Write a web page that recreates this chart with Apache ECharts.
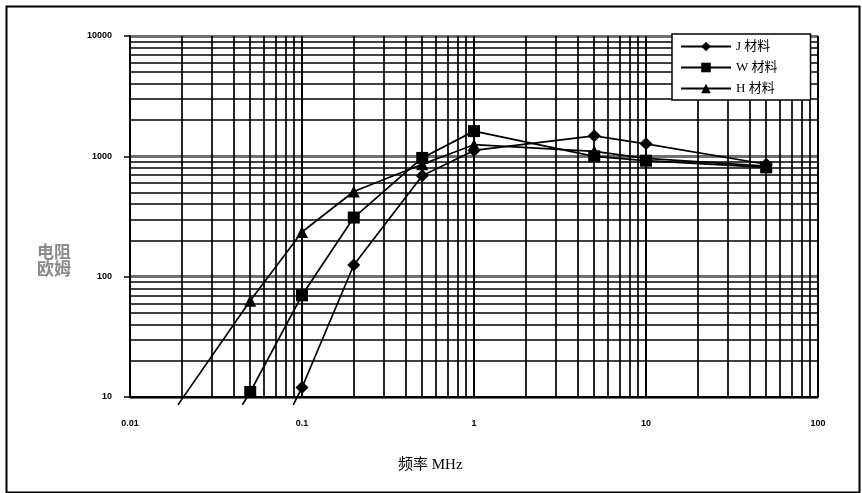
<!DOCTYPE html>
<html><head><meta charset="utf-8">
<script src="https://cdn.jsdelivr.net/npm/echarts@6/dist/echarts.min.js"></script>
<style>html,body{margin:0;padding:0;background:#fff}#c{width:862px;height:493px}</style>
</head><body><div id="c"></div>
<script>
// ---- data ----
const seriesNames = ['J 材料', 'W 材料', 'H 材料'];
// frequency MHz, resistance ohm ; first entries are where each line runs off the bottom of the plot
const freqJ = [0.089, 0.1, 0.2, 0.5, 1, 5, 10, 50];
const valJ  = [8.6,   12,  125, 690, 1120, 1480, 1270, 860];
const freqW = [0.045, 0.05, 0.1, 0.2, 0.5, 1, 5, 10, 50];
const valW  = [8.6,   11,   70,  310, 970, 1620, 1000, 920, 810];
const freqH = [0.019, 0.05, 0.1, 0.2, 0.5, 1, 5, 10, 50];
const valH  = [8.6,   63,   235, 510, 860, 1250, 1100, 960, 830];
const xTickLabels = ['0.01', '0.1', '1', '10', '100'];
const yTickLabels = ['10', '100', '1000', '10000'];
const xDecades = [0.01, 0.1, 1, 10];
const yDecades = [10, 100, 1000];

function pts(fx, fy) {
  return fx.map((x, i) => i === 0 && fy[i] < 10 ? { value: [x, fy[i]], symbol: 'none' } : [x, fy[i]]);
}
const minorX = [], minorY = [];
xDecades.forEach(d => { for (let k = 2; k <= 9; k++) minorX.push(+(d * k).toPrecision(6)); });
yDecades.forEach(d => { for (let k = 2; k <= 9; k++) minorY.push(d * k); });

const chart = echarts.init(document.getElementById('c'), null, { renderer: 'canvas' });
const lineStyle = { color: '#000', width: 1.7 };
const tickFont = { fontFamily: 'Liberation Sans', fontWeight: 'bold', fontSize: 9, color: '#000' };

chart.setOption({
  animation: false,
  backgroundColor: '#fff',
  grid: { left: 130, right: 44, top: 36, bottom: 96 },
  xAxis: {
    type: 'log', logBase: 10, min: 0.01, max: 100,
    axisLine: { show: true, lineStyle: { color: '#000', width: 2 } },
    axisTick: { show: false },
    splitLine: { show: true, lineStyle: { color: '#000', width: 2 } },
    axisLabel: Object.assign({ margin: 22, formatter: v => xTickLabels[Math.round(Math.log10(v)) + 2] }, tickFont)
  },
  yAxis: {
    type: 'log', logBase: 10, min: 10, max: 10000,
    axisLine: { show: true, lineStyle: { color: '#000', width: 2 } },
    axisTick: { show: true, length: 6, lineStyle: { color: '#000', width: 1.5 } },
    splitLine: { show: true, lineStyle: { color: '#6f6f6f', width: 3 } },
    axisLabel: Object.assign({ margin: 18, formatter: v => yTickLabels[Math.round(Math.log10(v)) - 1] }, tickFont)
  },
  legend: {
    show: true, left: 672, top: 34, orient: 'vertical', z: 20,
    data: seriesNames,
    itemWidth: 50, itemHeight: 12, itemGap: 8,
    padding: [6, 33, 5, 8],
    backgroundColor: '#fff', borderColor: '#000', borderWidth: 1.5,
    textStyle: { fontFamily: 'Liberation Serif, Noto Sans CJK SC', fontSize: 13, color: '#000' }
  },
  series: [
    {
      name: 'grid', type: 'line', data: [], silent: true, symbol: 'none',
      markLine: {
        silent: true, symbol: 'none', animation: false, label: { show: false },
        lineStyle: { color: '#000', type: 'solid', width: 1.7 },
        data: minorX.map(v => ({ xAxis: v })).concat(minorY.map(v => ({ yAxis: v, lineStyle: { width: 1.5 } })))
      }
    },
    { name: seriesNames[0], type: 'line', data: pts(freqJ, valJ), symbol: 'diamond', symbolSize: 13, clip: false,
      itemStyle: { color: '#000' }, lineStyle: lineStyle, z: 5 },
    { name: seriesNames[1], type: 'line', data: pts(freqW, valW), symbol: 'rect', symbolSize: 12, clip: false,
      itemStyle: { color: '#000' }, lineStyle: lineStyle, z: 5 },
    { name: seriesNames[2], type: 'line', data: pts(freqH, valH), symbol: 'triangle', symbolSize: 12, clip: false,
      itemStyle: { color: '#000' }, lineStyle: lineStyle, z: 5 }
  ],
  graphic: [
    { type: 'rect', left: 4, top: 4, shape: { width: 853, height: 486 }, silent: true, z: -1,
      style: { fill: 'none', stroke: '#000', lineWidth: 2 } },
    { type: 'text', left: 37, top: 243, silent: true,
      style: { text: '电阻\n欧姆', fontFamily: 'Noto Sans CJK SC', fontSize: 17, fontWeight: 'bold', fill: '#8a8a8a', lineHeight: 17 } },
    { type: 'text', left: 398, top: 458, silent: true,
      style: { text: '频率 MHz', fontFamily: 'Liberation Serif, Noto Sans CJK SC', fontSize: 15, fill: '#000' } }
  ]
});
</script>
</body></html>
